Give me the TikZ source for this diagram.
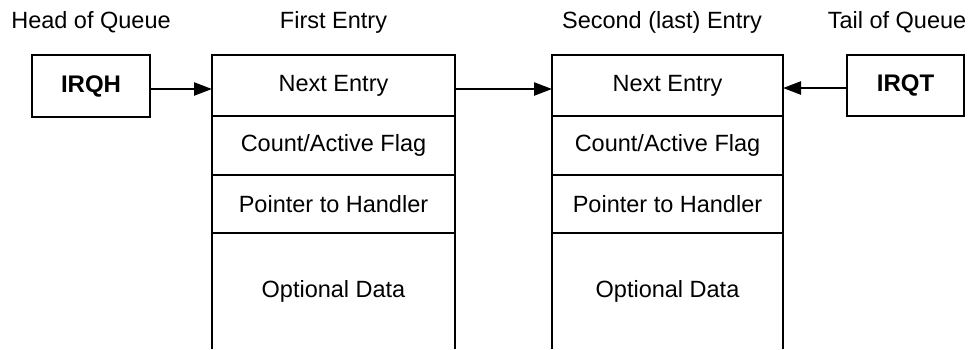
\documentclass[tikz,border=0pt]{standalone}
\usepackage{fontspec}
\setmainfont{Liberation Sans}
\usetikzlibrary{arrows.meta,calc}

\tikzset{
  lbl/.style={anchor=base, inner sep=0pt, font=\fontsize{23.5}{28}\selectfont},
  field/.style={draw, line width=2.4pt, inner sep=0pt, outer sep=0pt,
    font=\fontsize{23.5}{28}\selectfont},
  openfield/.style={inner sep=0pt, outer sep=0pt, font=\fontsize{23.5}{28}\selectfont},
  regbox/.style={draw, line width=2.4pt, inner sep=0pt, outer sep=0pt,
    font=\bfseries\fontsize{24}{28}\selectfont},
  link/.style={line width=2.4pt, -{Triangle[length=18pt,width=13pt]}},
  edge/.style={line width=2.4pt}
}

\begin{document}
\begin{tikzpicture}[x=1pt,y=-1pt]
  \useasboundingbox (0,0) rectangle (979,349);

  % column captions
  \node[lbl] (hcap) at (91,28.5) {Head of Queue};
  \node[lbl] (fcap) at (333.5,28.5) {First Entry};
  \node[lbl] (scap) at (662,28.5) {Second (last) Entry};
  \node[lbl] (tcap) at (897,28.5) {Tail of Queue};

  % queue head and tail registers
  \node[regbox, minimum width=118pt, minimum height=62pt] (irqh) at (91,86) {IRQH};
  \node[regbox, minimum width=117pt, minimum height=61pt] (irqt) at (905.5,85.5) {IRQT};

  % first entry
  \node[field, minimum width=243pt, minimum height=61pt] (a1) at (333.5,85.5) {Next Entry};
  \node[field, minimum width=243pt, minimum height=59pt] (a2) at (333.5,145.5) {Count/Active Flag};
  \node[field, minimum width=243pt, minimum height=58pt] (a3) at (333.5,204) {Pointer to Handler};
  \node[openfield, minimum width=243pt, minimum height=116pt] (a4) at (333.5,291) {Optional Data};
  \draw[edge] (a4.south west) -- (a4.north west);
  \draw[edge] (a4.south east) -- (a4.north east);

  % second (last) entry
  \node[field, minimum width=231pt, minimum height=61pt] (b1) at (667.5,85.5) {Next Entry};
  \node[field, minimum width=231pt, minimum height=59pt] (b2) at (667.5,145.5) {Count/Active Flag};
  \node[field, minimum width=231pt, minimum height=58pt] (b3) at (667.5,204) {Pointer to Handler};
  \node[openfield, minimum width=231pt, minimum height=116pt] (b4) at (667.5,291) {Optional Data};
  \draw[edge] (b4.south west) -- (b4.north west);
  \draw[edge] (b4.south east) -- (b4.north east);

  % links
  \draw[link] ($(irqh.east)+(0,3)$) -- ($(a1.west)+(0,3.5)$);
  \draw[link] ($(a1.east)+(0,3.5)$) -- ($(b1.west)+(0,3.5)$);
  \draw[link] ($(irqt.west)+(0,2.5)$) -- ($(b1.east)+(0,2.5)$);
\end{tikzpicture}
\end{document}
